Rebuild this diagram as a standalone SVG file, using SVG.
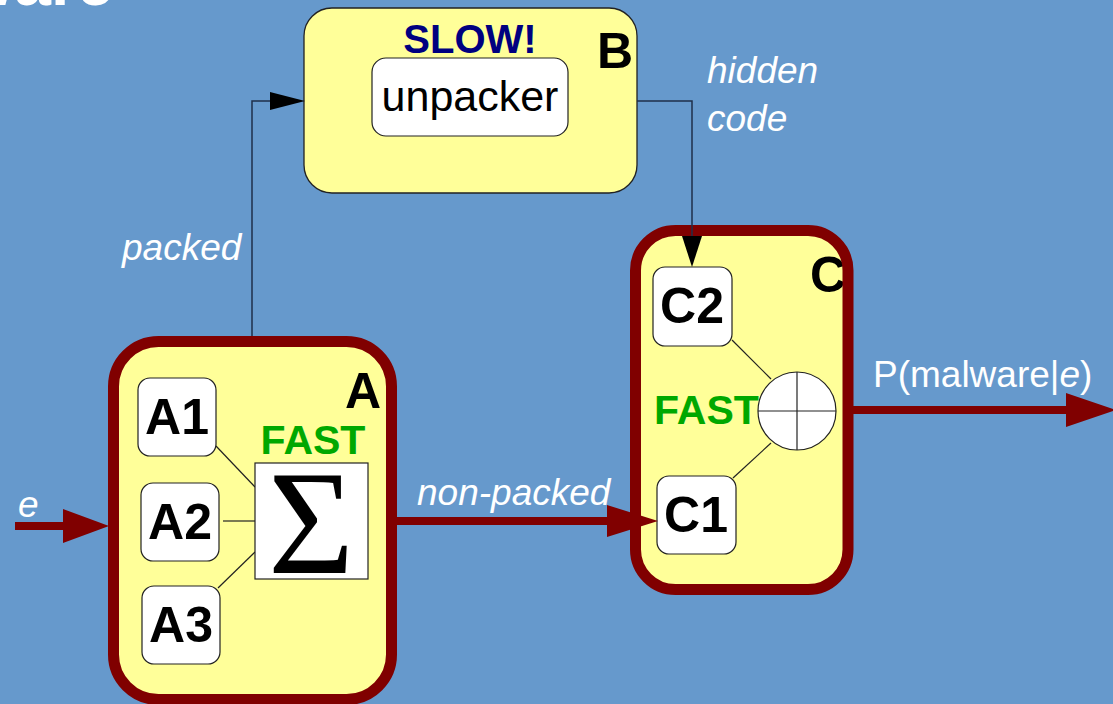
<svg xmlns="http://www.w3.org/2000/svg" width="1113" height="704" viewBox="0 0 1113 704">
  <defs>
    <style>
      .bg { fill: #6699cc; }
      .panel { fill: #ffff99; }
      .thick { fill: none; stroke: #800000; stroke-width: 11; }
      .thin-panel { fill: #ffff99; stroke: #222; stroke-width: 1.3; }
      .box { fill: #ffffff; stroke: #222; stroke-width: 1.2; }
      .link { stroke: #222; stroke-width: 1.2; fill: none; }
      .wire { stroke: #1f2f4a; stroke-width: 1.5; fill: none; }
      .flow { stroke: #800000; stroke-width: 8; fill: none; }
      .head-red { fill: #800000; }
      .head-blk { fill: #000; }
      .lbl { font-family: "Liberation Sans", Arial, sans-serif; font-weight: bold; font-size: 50px; fill: #000; }
      .big { font-family: "Liberation Sans", Arial, sans-serif; font-weight: bold; font-size: 50px; fill: #000; }
      .fast { font-family: "Liberation Sans", Arial, sans-serif; font-weight: bold; font-size: 41px; fill: #00a800; }
      .note { font-family: "Liberation Sans", Arial, sans-serif; font-style: italic; font-size: 37px; fill: #ffffff; }
    </style>
  </defs>

  <rect class="bg" x="0" y="0" width="1113" height="704"/>

  <!-- title, mostly above the frame -->
  <text x="-37" y="5" font-family="Liberation Sans, Arial, sans-serif" font-weight="bold" font-size="66" fill="#ffffff">ware</text>

  <!-- edge labels -->
  <text class="note" x="18" y="517">e</text>
  <text class="note" x="122" y="260">packed</text>
  <text class="note" x="707" y="83">hidden</text>
  <text class="note" x="707" y="131">code</text>
  <text class="note" x="417" y="505">non-packed</text>
  <text x="873" y="387" font-family="Liberation Sans, Arial, sans-serif" font-size="37" fill="#ffffff">P(malware|<tspan font-style="italic">e</tspan>)</text>

  <!-- B: unpacker -->
  <g id="nodeB">
    <rect class="thin-panel" x="304" y="8" width="333" height="185" rx="28"/>
    <text x="470" y="53" text-anchor="middle" font-family="Liberation Sans, Arial, sans-serif" font-weight="bold" font-size="40" fill="#000080">SLOW!</text>
    <text class="big" x="597" y="68">B</text>
    <rect class="box" x="372" y="58" width="196" height="78" rx="14"/>
    <text x="470" y="111" text-anchor="middle" font-family="Liberation Sans, Arial, sans-serif" font-size="43" fill="#000">unpacker</text>
  </g>

  <!-- A: fast classifiers combined by sum -->
  <g id="nodeA">
    <rect class="panel" x="113.5" y="341.5" width="278" height="358" rx="45"/>
    <text class="big" x="345" y="408">A</text>
    <text class="fast" x="313" y="454" text-anchor="middle">FAST</text>
    <line class="link" x1="216" y1="446" x2="255" y2="487"/>
    <line class="link" x1="223" y1="521" x2="255" y2="521"/>
    <line class="link" x1="218" y1="588" x2="255" y2="552"/>
    <rect class="box" x="138" y="378" width="78" height="78" rx="12"/>
    <text class="lbl" x="177" y="434" text-anchor="middle">A1</text>
    <rect class="box" x="141" y="483" width="78" height="78" rx="12"/>
    <text class="lbl" x="180" y="539" text-anchor="middle">A2</text>
    <rect class="box" x="142" y="586" width="78" height="78" rx="12"/>
    <text class="lbl" x="181" y="642" text-anchor="middle">A3</text>
    <rect x="255" y="463" width="113" height="116" fill="#ffffff" stroke="#222" stroke-width="1.2"/>
    <text x="311" y="573" text-anchor="middle" font-family="Liberation Serif, Times New Roman, serif" font-size="148" fill="#000">Σ</text>
    <rect class="thick" x="113.5" y="341.5" width="278" height="358" rx="45"/>
  </g>

  <!-- C: fast combination -->
  <g id="nodeC">
    <rect class="panel" x="635.5" y="230.5" width="212.5" height="359" rx="40"/>
    <text class="big" x="810" y="292">C</text>
    <line class="link" x1="732" y1="340" x2="771" y2="379"/>
    <line class="link" x1="733" y1="478" x2="771" y2="443"/>
    <text class="fast" x="654" y="424">FAST</text>
    <rect class="box" x="653" y="267" width="79" height="79" rx="12"/>
    <text class="lbl" x="692" y="323" text-anchor="middle">C2</text>
    <rect class="box" x="657" y="476" width="79" height="78" rx="12"/>
    <text class="lbl" x="696" y="532" text-anchor="middle">C1</text>
    <circle cx="797" cy="411" r="39" fill="#ffffff" stroke="#222" stroke-width="1.2"/>
    <line class="link" x1="758" y1="411" x2="836" y2="411"/>
    <line class="link" x1="797" y1="372" x2="797" y2="450"/>
    <rect class="thick" x="635.5" y="230.5" width="212.5" height="359" rx="40"/>
  </g>

  <!-- connectors -->
  <g id="connectors">
    <!-- A to B (packed) -->
    <polyline class="wire" points="252,336 252,101 272,101"/>
    <polygon class="head-blk" points="270,92 305,101 270,110"/>
    <!-- B to C (hidden code) -->
    <polyline class="wire" points="637,101 692,101 692,238"/>
    <polygon class="head-blk" points="682,236 702,236 692,267"/>
    <!-- input e -->
    <line class="flow" x1="15" y1="526" x2="70" y2="526"/>
    <polygon class="head-red" points="63,509 109,526 63,543"/>
    <!-- A to C (non-packed) -->
    <line class="flow" x1="397" y1="521" x2="612" y2="521"/>
    <polygon class="head-red" points="607,505 658,521 607,537"/>
    <!-- output -->
    <line class="flow" x1="853" y1="410" x2="1070" y2="410"/>
    <polygon class="head-red" points="1066,393 1116,410 1066,427"/>
  </g>
</svg>
